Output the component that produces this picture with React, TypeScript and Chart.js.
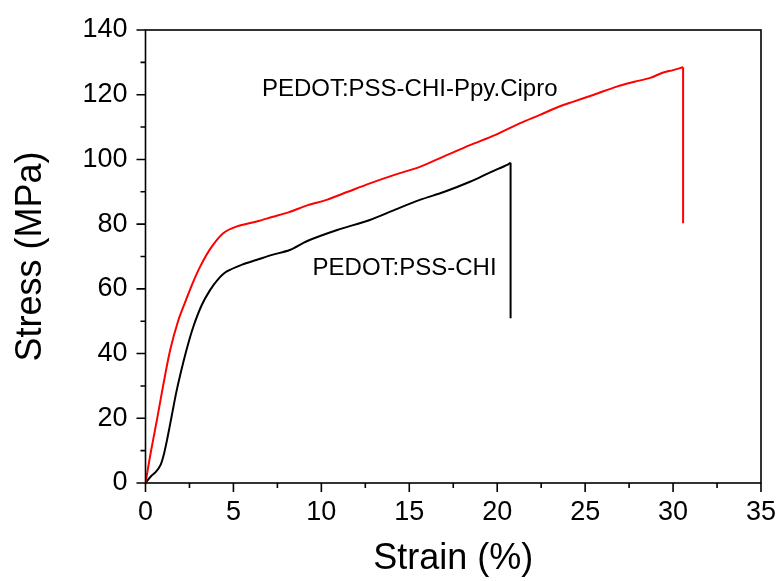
import React, { useEffect, useRef } from "react";
import { Chart, registerables } from "chart.js";

Chart.register(...registerables);

// PEDOT:PSS-CHI-Ppy.Cipro (red)
const redStrain = [0, 0.3, 0.65, 1.0, 1.4, 1.85, 2.3, 2.7, 3.1, 3.7, 4.42, 5.2, 6.32, 7.2, 8.2, 9.2, 10.3, 11.5, 12.76, 14.2, 15.6, 17.0, 18.45, 19.9, 21.3, 22.4, 23.6, 24.3, 25.5, 26.8, 27.8, 28.7, 29.4, 30.0, 30.57, 30.57];
const redStress = [0, 9.5, 19.5, 30, 41, 50, 56.5, 62, 66.8, 72.5, 77.2, 79.3, 80.8, 82.2, 83.8, 85.8, 87.5, 90, 92.6, 95.3, 97.7, 101, 104.4, 107.6, 111.2, 113.7, 116.5, 117.8, 120, 122.5, 124, 125.2, 126.8, 127.6, 128.5, 80.3];

// PEDOT:PSS-CHI (black)
const blackStrain = [0, 0.3, 0.6, 0.85, 1.05, 1.25, 1.5, 1.75, 2.0, 2.35, 2.72, 3.2, 3.67, 4.1, 4.6, 5.5, 6.3, 7.2, 8.2, 9.2, 10.9, 12.76, 14.2, 15.6, 17.0, 18.45, 19.6, 20.6, 20.76, 20.76];
const blackStress = [0, 2, 3.5, 5.5, 9, 14, 21, 28, 34, 41.5, 48.3, 55, 59.6, 62.8, 65.3, 67.5, 68.9, 70.5, 72, 74.8, 78.2, 81.3, 84.5, 87.5, 90, 93.1, 96, 98.4, 99, 50.9];

const seriesNames = ["PEDOT:PSS-CHI-Ppy.Cipro", "PEDOT:PSS-CHI"];
const seriesColors = ["#ff0000", "#000000"];
// label anchors in data coordinates (strain, stress)
const labelStrain = [6.62, 9.5];
const labelStress = [121.8, 66.2];

const xTicks = [0, 5, 10, 15, 20, 25, 30, 35];
const yTicks = [0, 20, 40, 60, 80, 100, 120, 140];

const FONT = "'Liberation Sans', Arial, Helvetica, sans-serif";

function toPoints(xs: number[], ys: number[]) {
  return xs.map((x, i) => ({ x, y: ys[i] }));
}

const framePlugin = {
  id: "frame",
  afterDatasetsDraw(chart: any) {
    const { ctx, chartArea, scales } = chart;
    const xs = scales.x;
    const ys = scales.y;
    ctx.save();
    ctx.strokeStyle = "#000";
    ctx.lineWidth = 1.6;
    ctx.strokeRect(chartArea.left, chartArea.top, chartArea.right - chartArea.left, chartArea.bottom - chartArea.top);
    ctx.beginPath();
    for (let v = 0; v <= 35 + 1e-6; v += 2.5) {
      const px = xs.getPixelForValue(v);
      const major = Math.abs(v / 5 - Math.round(v / 5)) < 1e-6;
      const len = major ? 9 : 5;
      ctx.moveTo(px, chartArea.bottom);
      ctx.lineTo(px, chartArea.bottom + len);
    }
    for (let v = 0; v <= 140 + 1e-6; v += 10) {
      const py = ys.getPixelForValue(v);
      const major = v % 20 === 0;
      const len = major ? 9 : 5;
      ctx.moveTo(chartArea.left, py);
      ctx.lineTo(chartArea.left - len, py);
    }
    ctx.stroke();
    ctx.fillStyle = "#000";
    ctx.font = `24px ${FONT}`;
    ctx.textAlign = "left";
    ctx.textBaseline = "middle";
    for (let i = 0; i < seriesNames.length; i++) {
      ctx.fillText(seriesNames[i], xs.getPixelForValue(labelStrain[i]), ys.getPixelForValue(labelStress[i]));
    }
    ctx.restore();
  },
};

function curveSets(name: string, color: string, xs: number[], ys: number[]) {
  const pts = toPoints(xs, ys);
  const common = { borderColor: color, backgroundColor: color, borderWidth: 2, showLine: true, pointRadius: 0 };
  return [
    { ...common, label: name, data: pts.slice(0, pts.length - 1), tension: 0.3 },
    { ...common, label: name + " break", data: pts.slice(pts.length - 2), tension: 0 },
  ];
}

export default function App() {
  const ref = useRef<HTMLCanvasElement | null>(null);
  useEffect(() => {
    if (!ref.current) return;
    const chart = new Chart(ref.current, {
      type: "scatter",
      data: {
        datasets: [
          ...curveSets(seriesNames[0], seriesColors[0], redStrain, redStress),
          ...curveSets(seriesNames[1], seriesColors[1], blackStrain, blackStress),
        ],
      },
      options: {
        responsive: false,
        animation: false,
        layout: { padding: { left: 0, top: 30, right: 17, bottom: 0 } },
        plugins: { legend: { display: false }, tooltip: { enabled: false } },
        scales: {
          x: {
            type: "linear",
            min: 0,
            max: 35,
            afterFit: (s: any) => { s.height = 98; s.paddingLeft = 0; s.paddingRight = 0; },
            afterBuildTicks: (s: any) => { s.ticks = xTicks.map((v) => ({ value: v })); },
            grid: { display: false },
            border: { display: false },
            ticks: { color: "#000", font: { family: FONT, size: 27 }, padding: 5, maxRotation: 0 },
            title: { display: true, text: "Strain (%)", color: "#000", font: { family: FONT, size: 36 }, padding: { top: 0, bottom: 0 } },
          },
          y: {
            type: "linear",
            min: 0,
            max: 140,
            afterFit: (s: any) => { s.width = 145.5; s.paddingTop = 0; s.paddingBottom = 0; },
            afterBuildTicks: (s: any) => { s.ticks = yTicks.map((v) => ({ value: v })); },
            grid: { display: false },
            border: { display: false },
            ticks: { color: "#000", font: { family: FONT, size: 27 }, padding: 10 },
            title: { display: true, text: "Stress (MPa)", color: "#000", font: { family: FONT, size: 36 }, padding: { top: 9, bottom: 0 } },
          },
        },
      },
      plugins: [framePlugin],
    } as any);
    return () => chart.destroy();
  }, []);
  return (
    <div style={{ position: "absolute", left: 0, top: 0, width: 778, height: 581, background: "#fff" }}>
      <canvas ref={ref} width={778} height={581} />
    </div>
  );
}
